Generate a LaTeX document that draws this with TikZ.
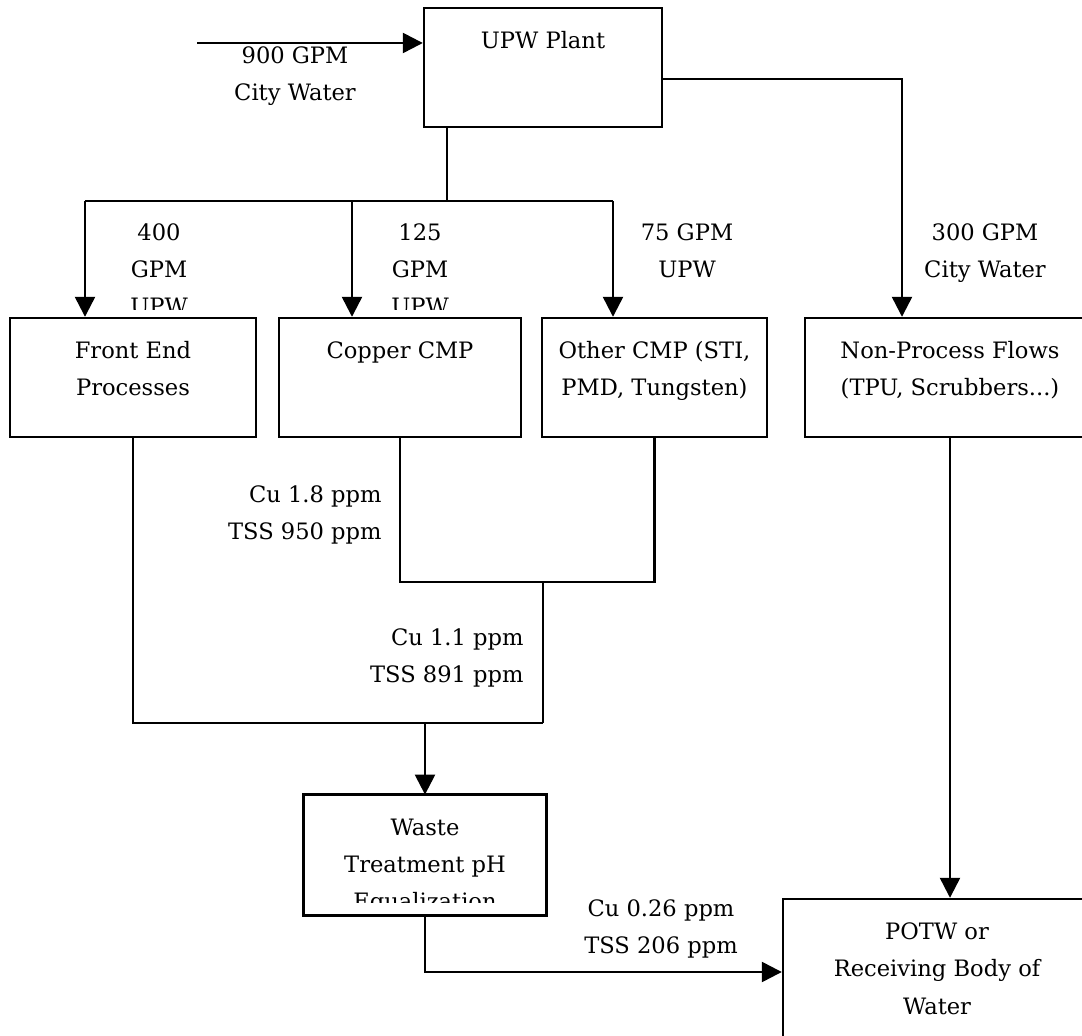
\documentclass[tikz,border=0pt]{standalone}
\usepackage{fontspec}
\setmainfont{DejaVu Serif}
\usetikzlibrary{arrows.meta}
\newcommand{\boxtext}[3]{\begin{minipage}[t][#2][t]{#1}\centering\rule{0pt}{20.5pt}#3\end{minipage}}
\tikzstyle{boxarea} = [rectangle, inner sep=0pt]
\tikzstyle{processbox} = [boxarea, draw, line width=1.2pt]
\tikzstyle{flowline} = [line width=1.2pt]
\tikzstyle{flow} = [line width=1.2pt, -{Triangle[length=10pt, width=10pt]}]
\tikzstyle{flowlabel} = [inner sep=0pt, align=center, anchor=north]
\tikzstyle{conclabel} = [inner sep=0pt, align=right, anchor=north east]

\begin{document}
\begin{tikzpicture}[x=0.5pt, y=-0.5pt, font=\fontsize{11.3}{18.5}\selectfont]
		\useasboundingbox (0,0) rectangle (1082,1036);
		% boxes
		\node[processbox](upw) at (543,67.5){\boxtext{119pt}{59.5pt}{UPW Plant}};
		\node[processbox](front) at (133,377.5){\boxtext{123pt}{59.5pt}{Front End\\Processes}};
		\node[processbox](copper) at (400,377.5){\boxtext{121pt}{59.5pt}{Copper CMP}};
		\node[processbox](other) at (654.5,377.5){\boxtext{112.5pt}{59.5pt}{Other CMP (STI,\\PMD, Tungsten)}};
		\node[processbox](nonproc) at (950,377.5){\boxtext{145pt}{59.5pt}{Non-Process Flows\\(TPU, Scrubbers...)}};
		\begin{scope}
			\clip (290,780) rectangle (560,903);
			\node[boxarea](waste) at (425,855){\boxtext{121pt}{60pt}{Waste\\Treatment pH\\Equalization}};
		\end{scope}
		\draw[flowline] (waste.north west) rectangle (waste.south east);
		\node[processbox](potw) at (937,972){\boxtext{154pt}{73pt}{POTW or\\Receiving Body of\\Water}};

		% flow labels
		\node[flowlabel](cityflow) at (295,46) {900 GPM\\City Water};
		\begin{scope}
			\clip (0,0) rectangle (1082,310);
			\node[flowlabel](feflow) at (159,223) {400\\GPM\\UPW};
			\node[flowlabel](cuflow) at (420,223) {125\\GPM\\UPW};
		\end{scope}
		\node[flowlabel](otherflow) at (687,223) {75 GPM\\UPW};
		\node[flowlabel](npflow) at (985,223) {300 GPM\\City Water};
		\node[conclabel](cuconc) at (382,485) {Cu 1.8 ppm\\TSS 950 ppm};
		\node[conclabel](mixconc) at (524,628) {Cu 1.1 ppm\\TSS 891 ppm};
		\node[flowlabel](outconc) at (661,899) {Cu 0.26 ppm\\TSS 206 ppm};

		% connectors
		\coordinate (cityin) at (197,43);
		\coordinate (split) at (447,201);
		\coordinate (d1) at (85,201);
		\coordinate (d2) at (352,201);
		\coordinate (d3) at (613,201);
		\coordinate (tocity) at (902,79);
		\coordinate (cmpjoin) at (543,582);
		\coordinate (alljoin) at (425,723);

		\draw[flow] (cityin) -- (cityin -| upw.west);
		\draw[flowline] (split |- upw.south) -- (split);
		\draw[flowline] (d1) -- (d3);
		\draw[flow] (d1) -- (d1 |- front.north);
		\draw[flow] (d2) -- (d2 |- copper.north);
		\draw[flow] (d3) -- (d3 |- other.north);
		\draw[flow] (upw.east |- tocity) -- (tocity) -- (tocity |- nonproc.north);
		\draw[flowline] (copper.south) |- (other.south |- cmpjoin) -- (other.south);
		\draw[flowline] (cmpjoin) -- (cmpjoin |- alljoin);
		\draw[flowline] (front.south) |- (cmpjoin |- alljoin);
		\draw[flow] (alljoin) -- (waste.north);
		\draw[flow] (waste.south) |- (potw.west);
		\draw[flow] (nonproc.south) -- (nonproc.south |- potw.north);
	\end{tikzpicture}
\end{document}
